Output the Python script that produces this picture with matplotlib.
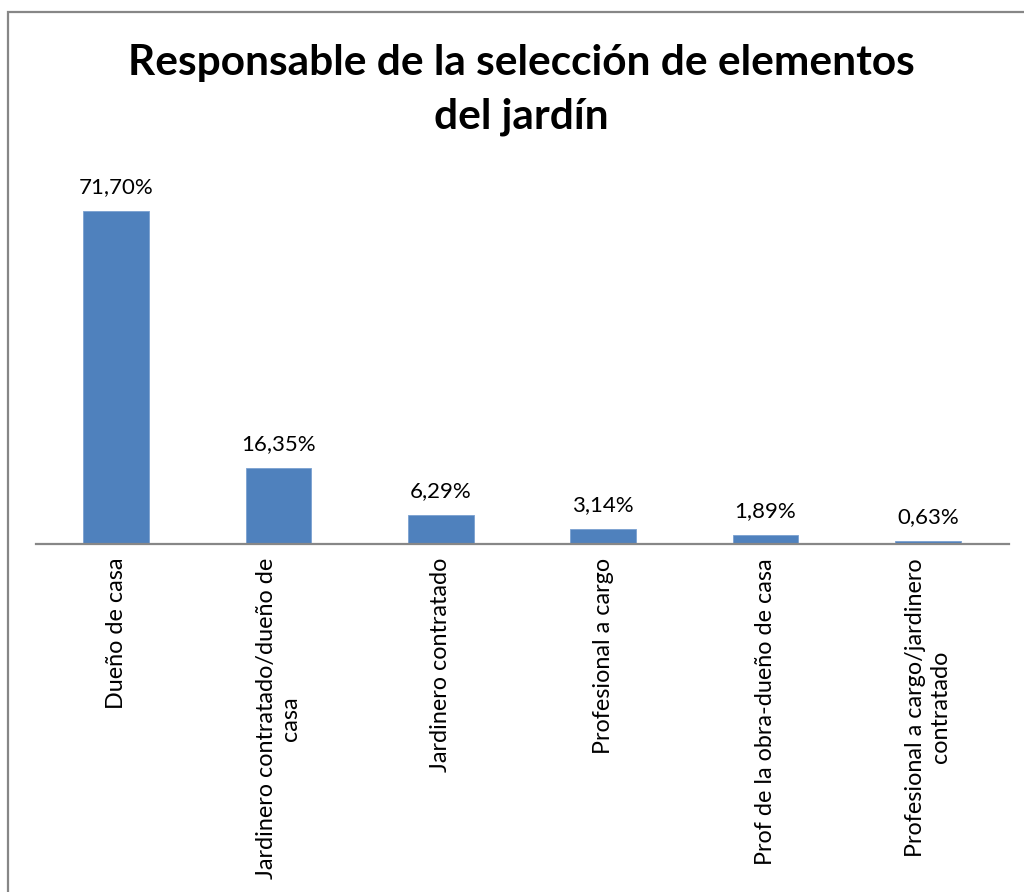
import matplotlib
matplotlib.use("Agg")
import matplotlib.pyplot as plt
from matplotlib.patches import Rectangle

categories = [
    "Dueño de casa",
    "Jardinero contratado/dueño de\ncasa",
    "Jardinero contratado",
    "Profesional a cargo",
    "Prof de la obra-dueño de casa",
    "Profesional a cargo/jardinero\ncontratado",
]
values = [71.70, 16.35, 6.29, 3.14, 1.89, 0.63]
title = "Responsable de la selección de elementos\ndel jardín"

FONT = "Lato"
BAR_COLOR = "#4F81BD"
W, H = 1024, 892

fig = plt.figure(figsize=(W / 100, H / 100), dpi=100)
fig.patch.set_facecolor("white")

# outer chart border (left/top visible)
fig.add_artist(Rectangle((8 / W, -0.1), 1.2, (H - 12) / H + 0.1,
                         transform=fig.transFigure, fill=False,
                         edgecolor="#878787", linewidth=1.6))

ax = fig.add_axes([35 / W, (H - 544) / H, (1009 - 35) / W, (544 - 172) / H])
x = list(range(len(values)))
bars = ax.bar(x, values, width=0.406, color=BAR_COLOR, edgecolor="#7aa0d0", linewidth=0.6)
ax.set_xlim(-0.5, len(values) - 0.5)
ax.set_ylim(0, 80)
for s in ["top", "right", "left"]:
    ax.spines[s].set_visible(False)
ax.spines["bottom"].set_color("#878787")
ax.spines["bottom"].set_linewidth(1.6)
ax.spines["bottom"].set_bounds(-0.493, len(values) - 0.5)
ax.set_yticks([])
ax.set_xticks(x)
ax.set_xticklabels(categories, rotation=90, fontsize=16.8, family=FONT,
                   ha="center", va="top", multialignment="center")
ax.tick_params(axis="x", length=0, pad=10)

for b, v in zip(bars, values):
    ax.annotate(f"{v:.2f}%".replace(".", ","),
                (b.get_x() + b.get_width() / 2, v),
                xytext=(0, 10), textcoords="offset points",
                ha="center", va="bottom", fontsize=16, family=FONT)

fig.text(521 / W, 1 - 90 / H, title, ha="center", va="center",
         fontsize=30.5, fontweight="bold", family=FONT, linespacing=1.5)

fig.savefig("out.png", dpi=100)
